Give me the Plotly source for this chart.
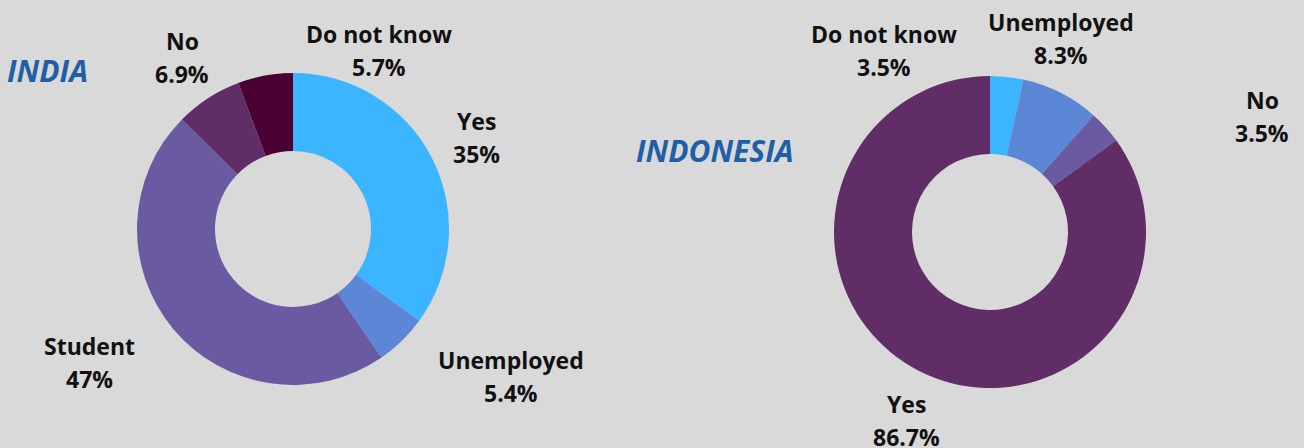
import plotly.graph_objects as go

# Survey answers per country (percent)
india_labels = ["Yes", "Unemployed", "Student", "No", "Do not know"]
india_values = [35, 5.4, 47, 6.9, 5.7]

indonesia_labels = ["Do not know", "Unemployed", "No", "Yes"]
indonesia_values = [3.5, 8.3, 3.5, 86.7]

W, H = 1304, 448
BG = "#d9d9d9"
TITLE_BLUE = "#1f5fa8"

palette = {
    "Yes": "#3bb5ff",
    "Unemployed": "#5b87d6",
    "Student": "#6a5aa2",
    "No": "#612d66",
    "Do not know": "#4b0033",
}
indonesia_palette = {
    "Do not know": "#3bb5ff",
    "Unemployed": "#5b87d6",
    "No": "#6a5aa2",
    "Yes": "#612d66",
}


def px_x(x):
    return x / W


def px_y(y):
    return 1 - y / H


fig = go.Figure()

fig.add_trace(go.Pie(
    labels=india_labels,
    values=india_values,
    hole=0.5,
    sort=False,
    direction="clockwise",
    rotation=0,
    textinfo="none",
    marker=dict(colors=[palette[l] for l in india_labels], line=dict(width=0)),
    domain=dict(x=[px_x(137), px_x(449)], y=[px_y(385), px_y(73)]),
    showlegend=False,
))

fig.add_trace(go.Pie(
    labels=indonesia_labels,
    values=indonesia_values,
    hole=0.5,
    sort=False,
    direction="clockwise",
    rotation=0,
    textinfo="none",
    marker=dict(colors=[indonesia_palette[l] for l in indonesia_labels], line=dict(width=0)),
    domain=dict(x=[px_x(834), px_x(1146)], y=[px_y(388), px_y(76)]),
    showlegend=False,
))

label_font = dict(family="Open Sans", size=23, color="#111111")
title_font = dict(family="Open Sans", size=30, color=TITLE_BLUE)
LINE_GAP = 33

# Centre positions (px) of each outside label's first line
india_label_pos = {
    "Yes": (476, 121),
    "Unemployed": (511, 360),
    "Student": (89, 346),
    "No": (182, 41),
    "Do not know": (379, 34),
}
indonesia_label_pos = {
    "Do not know": (884, 34),
    "Unemployed": (1061, 22),
    "No": (1262, 100),
    "Yes": (906, 404),
}

annotations = []


def add_labels(labels, values, positions):
    for lab, val in zip(labels, values):
        cx, cy = positions[lab]
        annotations.append(dict(
            x=px_x(cx), y=px_y(cy), xref="paper", yref="paper",
            text=f"<b>{lab}</b>", showarrow=False, font=label_font,
            xanchor="center", yanchor="middle",
        ))
        annotations.append(dict(
            x=px_x(cx), y=px_y(cy + LINE_GAP), xref="paper", yref="paper",
            text=f"<b>{val:g}%</b>", showarrow=False, font=label_font,
            xanchor="center", yanchor="middle",
        ))


add_labels(india_labels, india_values, india_label_pos)
add_labels(indonesia_labels, indonesia_values, indonesia_label_pos)

annotations.append(dict(
    x=px_x(5), y=px_y(70), xref="paper", yref="paper",
    text="<b><i>INDIA</i></b>", showarrow=False, font=title_font,
    xanchor="left", yanchor="middle",
))
annotations.append(dict(
    x=px_x(634), y=px_y(150), xref="paper", yref="paper",
    text="<b><i>INDONESIA</i></b>", showarrow=False, font=title_font,
    xanchor="left", yanchor="middle",
))

fig.update_layout(
    width=W, height=H,
    margin=dict(l=0, r=0, t=0, b=0),
    paper_bgcolor=BG,
    plot_bgcolor=BG,
    annotations=annotations,
)

fig.write_html("out.html")
